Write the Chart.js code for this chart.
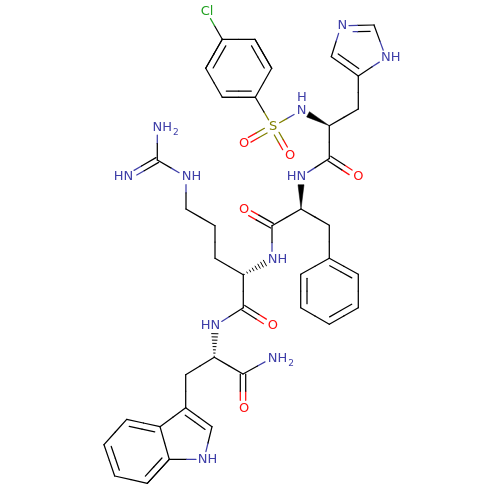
<!DOCTYPE html>
<html>
<head>
<meta charset="utf-8">
<style>
  html, body { margin: 0; padding: 0; background: #fff; }
  canvas { display: block; }
</style>
<script src="https://cdn.jsdelivr.net/npm/chart.js@4"></script>
</head>
<body>
<canvas id="myChart" width="500" height="500"></canvas>
<script>
// atoms
var atomIds = ['cl','a1','a2','a3','a4','a5','a6','s','o1','o2','n1','c1','c2','im1','im2','im3','im4','im5','c3','o3','n2','c4','c5','ph1','ph2','ph3','ph4','ph5','ph6','c6','o4','n3','c7','c8','c9','c10','n4','g','n5','n6','c11','o5','n7','c12','c13','i3','i2','n8','i7a','i3a','i4','i5','i6','i7','c14','o6','n9'];
var atomX = [206.5,222.3,255,271.7,255.3,222.3,205.7,272.7,242.7,289,301,329.3,358.3,358.3,331.3,341,374,386,329.3,357.3,301,301,329.3,329.3,358.3,358.3,329.3,300.7,300.7,272,243,272,243.3,215,215,186,186,157.3,128.5,157.3,243.3,271.7,215,214.3,185.7,185.7,212,204,169.3,160,126.7,104,114.7,147.3,243,243,272];
var atomY = [11.7,39.3,39.3,68.3,97.3,97.3,68.3,126.7,143.7,155.3,110.5,125.7,109,76,56.7,25.7,25,57.7,158.5,176.7,176.7,209,225.3,258.3,274.3,307.7,324.3,307.7,274.3,225.7,209.3,259.3,274.7,258.3,225.7,209,176.7,160,176.7,127,307.7,325.7,325.7,357.3,374.7,407.7,426.7,459.3,459.3,426.7,419.3,444.7,476,483.3,374,408.3,358];
var atomEl = ['Cl','C','C','C','C','C','C','S','O','O','N','C','C','C','C','N','C','N','C','O','N','C','C','C','C','C','C','C','C','C','O','N','C','C','C','C','N','C','N','N','C','O','N','C','C','C','C','N','C','C','C','C','C','C','C','O','N'];

var singleBonds = ['cl-a1','a1-a2','a2-a3','a3-a4','a4-a5','a5-a6','a6-a1','a4-s','s-n1','c1-c2','c2-im1','im1-im5','im5-im4','im3-im2','c1-c3','c3-n2','c4-c5','c5-ph1','ph2-ph3','ph4-ph5','ph6-ph1','c4-c6','c6-n3','c7-c8','c8-c9','c9-c10','c10-n4','n4-g','g-n6','c7-c11','c11-n7','c12-c13','c13-i3','i3-i3a','i2-n8','n8-i7a','i7a-i3a','i4-i5','i6-i7','i7a-i7','c12-c14','c14-n9'];
var centredDoubles = ['s-o1','s-o2','c3-o3','c6-o4','g-n5','c11-o5','c14-o6'];
var ringDoubles = ['a1-a6','a2-a3','a4-a5','ph1-ph2','ph3-ph4','ph5-ph6','im1-im2','im3-im4','i3-i2','i3a-i4','i5-i6','i7-i7a'];
var ringOfDouble = ['a1','a1','a1','ph1','ph1','ph1','im1','im1','i3','i4','i4','i4'];
var ringMembers = {
  a1: ['a1','a2','a3','a4','a5','a6'],
  ph1: ['ph1','ph2','ph3','ph4','ph5','ph6'],
  im1: ['im1','im2','im3','im4','im5'],
  i3: ['i3','i2','n8','i7a','i3a'],
  i4: ['i3a','i4','i5','i6','i7','i7a']
};
var solidWedges = ['c1-n1','c4-n2'];
var hashWedges = ['c7-n3','c12-n7'];

// label text, left edge, middle
var labelText = ['Cl','N','NH','N','H','S','O','O','O','HN','O','NH','NH','HN','NH','O','HN','NH','O','NH'];
var labelSub = ['','','','','','','','','','','','','','','2','','','2','',''];
var labelX = [200.7,337.5,381,296.7,297,269,239,285,353.3,286.7,239,267.7,181.7,113.7,152.5,267.7,200.7,267.7,239,197.7];
var labelY = [11.7,25.7,57.7,111,97.7,126.7,143.7,155.3,176.7,176.7,209.3,259.3,176.7,176.7,127.3,325.7,325.7,359,408.3,459.3];
var labelEl = ['Cl','N','N','N','N','S','O','O','O','N','O','N','N','N','N','O','N','N','O','N'];

var colors = { C: '#000000', N: '#3F3FA8', O: '#FF0D0D', S: '#808000', Cl: '#1FA01F' };
var labelGap = 8;
var bondWidth = 1.25;

function atom(id) {
  var i = atomIds.indexOf(id);
  return { x: atomX[i], y: atomY[i], el: atomEl[i] };
}

function seg(p, q, color, width) {
  return {
    data: [{ x: p.x, y: p.y }, { x: q.x, y: q.y }],
    borderColor: color,
    borderWidth: width || bondWidth,
    showLine: true,
    pointRadius: 0,
    borderCapStyle: 'round',
    fill: false
  };
}

var datasets = [];

// one bond, black half and coloured half, pulled back from labelled atoms
function addBond(a, b, off, trim) {
  var dx = b.x - a.x, dy = b.y - a.y;
  var len = Math.sqrt(dx * dx + dy * dy);
  var ux = dx / len, uy = dy / len;
  var nx = -uy * off, ny = ux * off;
  var startGap = (a.el === 'C' ? 0 : labelGap) + (trim || 0);
  var endGap = (b.el === 'C' ? 0 : labelGap) + (trim || 0);
  var p = { x: a.x + ux * startGap + nx, y: a.y + uy * startGap + ny };
  var q = { x: b.x - ux * endGap + nx, y: b.y - uy * endGap + ny };
  var m = { x: (a.x + b.x) / 2 + nx, y: (a.y + b.y) / 2 + ny };
  datasets.push(seg(p, m, colors[a.el]));
  datasets.push(seg(m, q, colors[b.el]));
}

singleBonds.forEach(function (b) {
  var ids = b.split('-');
  addBond(atom(ids[0]), atom(ids[1]), 0);
});

centredDoubles.forEach(function (b) {
  var ids = b.split('-');
  addBond(atom(ids[0]), atom(ids[1]), 2.7);
  addBond(atom(ids[0]), atom(ids[1]), -2.7);
});

ringDoubles.forEach(function (b, i) {
  var ids = b.split('-');
  var a = atom(ids[0]), c = atom(ids[1]);
  addBond(a, c, 0);
  var members = ringMembers[ringOfDouble[i]];
  var cx = 0, cy = 0;
  members.forEach(function (m) { cx += atom(m).x; cy += atom(m).y; });
  cx /= members.length; cy /= members.length;
  var dx = c.x - a.x, dy = c.y - a.y;
  var side = (-dy * (cx - a.x) + dx * (cy - a.y)) > 0 ? 1 : -1;
  addBond(a, c, 6.3 * side, 4);
});

solidWedges.forEach(function (b) {
  var ids = b.split('-');
  var a = atom(ids[0]), c = atom(ids[1]);
  var dx = c.x - a.x, dy = c.y - a.y;
  var len = Math.sqrt(dx * dx + dy * dy);
  var ux = dx / len, uy = dy / len;
  var tip = { x: c.x - ux * labelGap, y: c.y - uy * labelGap };
  datasets.push({
    data: [
      { x: a.x, y: a.y },
      { x: tip.x - uy * 3, y: tip.y + ux * 3 },
      { x: tip.x + uy * 3, y: tip.y - ux * 3 },
      { x: a.x, y: a.y }
    ],
    showLine: true,
    pointRadius: 0,
    borderWidth: 0.5,
    borderColor: '#000000',
    backgroundColor: '#000000',
    fill: 'shape',
    tension: 0
  });
});

hashWedges.forEach(function (b) {
  var ids = b.split('-');
  var a = atom(ids[0]), c = atom(ids[1]);
  var dx = c.x - a.x, dy = c.y - a.y;
  var len = Math.sqrt(dx * dx + dy * dy);
  var ux = dx / len, uy = dy / len;
  var n = 8;
  for (var k = 0; k < n; k++) {
    var d = 1 + k * (len - labelGap - 1) / (n - 1);
    var half = 0.3 + 2.9 * k / (n - 1);
    var mx = a.x + ux * d, my = a.y + uy * d;
    datasets.push(seg(
      { x: mx - uy * half, y: my + ux * half },
      { x: mx + uy * half, y: my - ux * half },
      '#000000', 1
    ));
  }
});

var atomLabels = {
  id: 'atomLabels',
  afterDatasetsDraw: function (chart) {
    var ctx = chart.ctx;
    ctx.save();
    ctx.textBaseline = 'middle';
    ctx.textAlign = 'left';
    labelText.forEach(function (t, i) {
      var x = chart.scales.x.getPixelForValue(labelX[i]);
      var y = chart.scales.y.getPixelForValue(labelY[i]);
      ctx.fillStyle = colors[labelEl[i]];
      ctx.font = '13px "DejaVu Sans"';
      ctx.fillText(t, x, y);
      if (labelSub[i]) {
        var w = ctx.measureText(t).width;
        ctx.font = '9px "DejaVu Sans"';
        ctx.fillText(labelSub[i], x + w + 1, y + 5);
      }
    });
    ctx.restore();
  }
};

var ctx = document.getElementById('myChart').getContext('2d');
var myChart = new Chart(ctx, {
  type: 'scatter',
  data: { datasets: datasets },
  plugins: [atomLabels],
  options: {
    responsive: false,
    animation: false,
    layout: { padding: 0 },
    scales: {
      x: { type: 'linear', min: 0, max: 500, display: false },
      y: { type: 'linear', min: 0, max: 500, reverse: true, display: false }
    },
    plugins: {
      legend: { display: false },
      tooltip: { enabled: false }
    }
  }
});
</script>
</body>
</html>
